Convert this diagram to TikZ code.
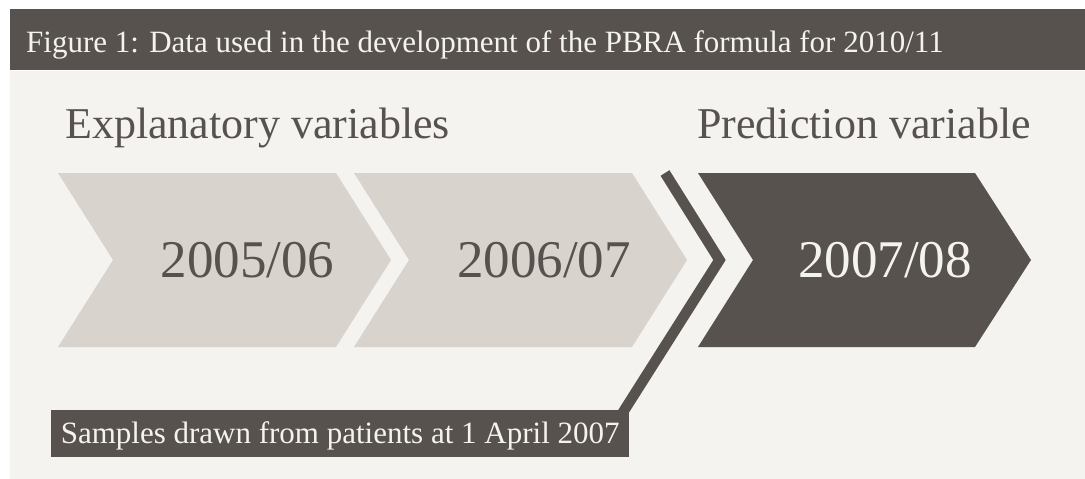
\documentclass[tikz,border=0pt]{standalone}
\usepackage{fontspec}
\setmainfont{Liberation Serif}
\usetikzlibrary{backgrounds}
\definecolor{dk}{HTML}{58524E}
\definecolor{lt}{HTML}{D9D3CE}
\definecolor{bg}{HTML}{F4F3EF}
\tikzset{
  chev/.style={fill=lt},
  chevdark/.style={fill=dk},
  smalltxt/.style={inner sep=0pt, font=\fontsize{31}{37}\selectfont},
  headtxt/.style={inner sep=0pt, font=\fontsize{44}{52}\selectfont, text=dk},
  yeartxt/.style={inner sep=0pt, font=\fontsize{53}{60}\selectfont, anchor=base},
  samplebox/.style={fill=dk, text=bg, inner sep=0pt, minimum width=578pt, minimum height=47pt,
     text height=24pt, text depth=5pt, font=\fontsize{31}{37}\selectfont},
  marker/.style={draw=dk, line width=10.5pt, line join=miter, line cap=butt}
}
\begin{document}
\begin{tikzpicture}[x=1pt,y=-1pt]
\useasboundingbox (0,0) rectangle (1085,479);
\begin{scope}[on background layer]
\fill[white] (0,0) rectangle (1085,479);
\fill[bg] (10,71) rectangle (1085,479);
\fill[dk] (10,9) rectangle (1085,70);
\end{scope}
\node[smalltxt, text=bg, anchor=base west] (title) at (26,52) {Figure 1: Data used in the development of the PBRA formula for 2010/11};
\node[headtxt, anchor=base west] (expl) at (65,138) {Explanatory variables};
\node[headtxt, anchor=base west] (pred) at (697,138) {Prediction variable};
% chevrons
\fill[chev] (58,173) -- (336,173) -- (391,260) -- (336,347) -- (58,347) -- (113,260) -- cycle;
\fill[chev] (354,173) -- (632,173) -- (687,260) -- (632,347) -- (354,347) -- (409,260) -- cycle;
\fill[chevdark] (698,173) -- (975,173) -- (1031,260) -- (975,347) -- (698,347) -- (753,260) -- cycle;
\node[yeartxt, text=dk] (y1) at (247.5,277) {2005/06};
\node[yeartxt, text=dk] (y2) at (544,277) {2006/07};
\node[yeartxt, text=bg] (y3) at (885,277) {2007/08};
% marker line and box
\coordinate (linetop) at (665,173);
\coordinate (linetip) at (719.5,260);
\node[samplebox, anchor=north west] (samples) at (51,410) {Samples drawn from patients at 1 April 2007};
\begin{scope}[on background layer]
\draw[marker] (linetop) -- (linetip) -- ([xshift=-6.9pt,yshift=-3pt]samples.north east);
\end{scope}
\end{tikzpicture}
\end{document}
